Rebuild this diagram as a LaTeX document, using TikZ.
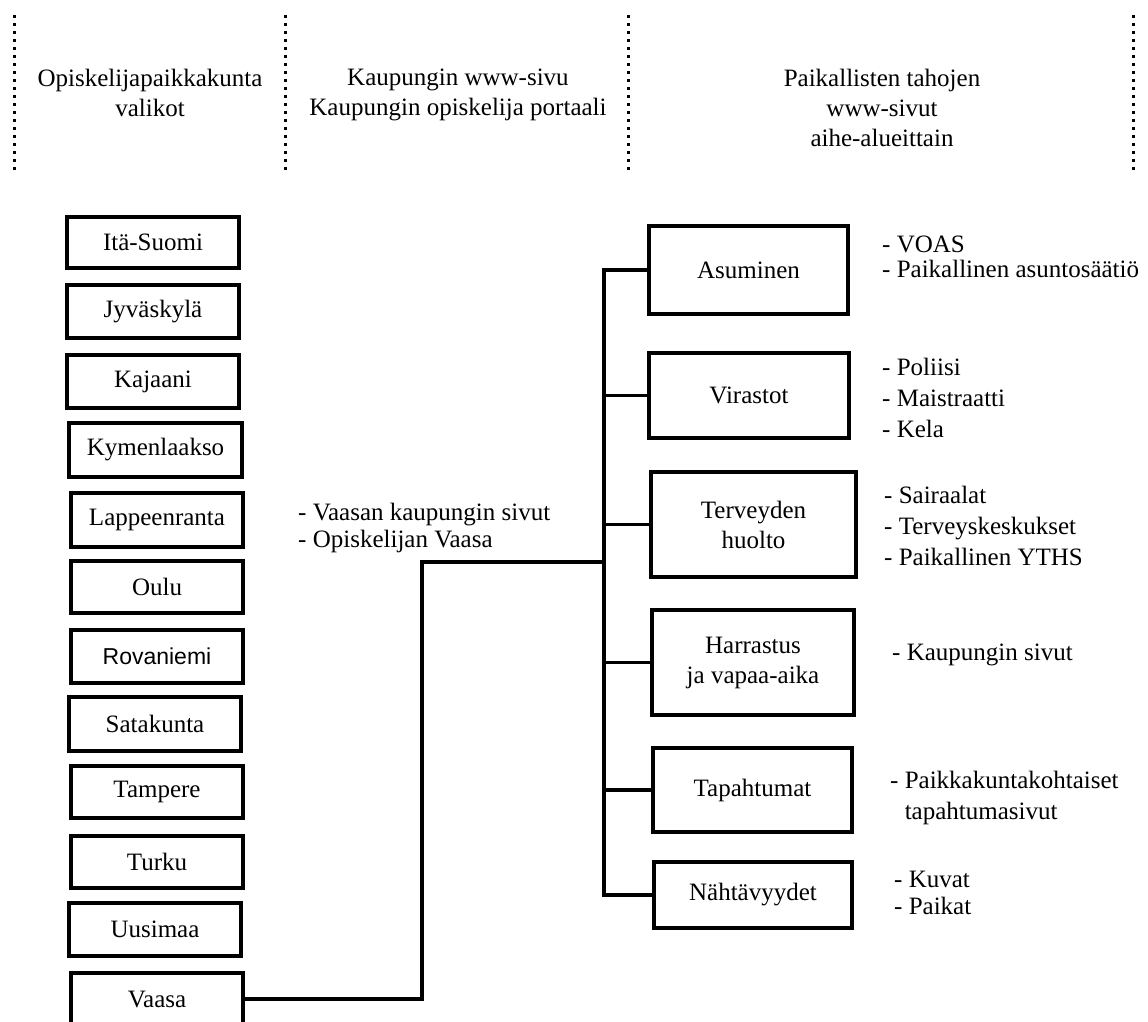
\documentclass[tikz,border=0pt]{standalone}
\usepackage{fontspec}
\setmainfont{Liberation Serif}
\newfontfamily\sansfont{Liberation Sans}
\begin{document}
\begin{tikzpicture}[x=1pt,y=-1pt,
  every node/.style={inner sep=0pt, font=\fontsize{25}{30}\selectfont},
  hdr/.style={align=center, anchor=north},
  cellbox/.style={draw, line width=3.2pt, align=center},
  itemlist/.style={align=left, anchor=north west},
  wire/.style={draw, line width=3.2pt},
  sepline/.style={line width=3pt, dash pattern=on 3pt off 5pt}]

% page
\fill[white] (0,0) rectangle (1148,1021);
\useasboundingbox (0,0) rectangle (1148,1021);

% column separators
\draw[sepline] (14,15) -- (14,172);
\draw[sepline] (285,15) -- (285,172);
\draw[sepline] (628,15) -- (628,172);
\draw[sepline] (1133,15) -- (1133,172);

% column headings
\node[hdr] (h1) at (150,69) {Opiskelijapaikkakunta\\valikot};
\node[hdr] (h2) at (458,69) {Kaupungin www-sivu\\Kaupungin opiskelija portaali};
\node[hdr] (h3) at (882,69) {Paikallisten tahojen\\www-sivut\\aihe-alueittain};

% study towns
\node[cellbox, minimum width=172, minimum height=51] (itasuomi) at (153,242.5) {Itä-Suomi};
\node[cellbox, minimum width=172, minimum height=53] (jyvaskyla) at (153,311.5) {Jyväskylä};
\node[cellbox, minimum width=172, minimum height=53] (kajaani) at (153,381.5) {Kajaani};
\node[cellbox, minimum width=173, minimum height=54] (kymenlaakso) at (155.5,450) {Kymenlaakso};
\node[cellbox, minimum width=172, minimum height=54] (lappeenranta) at (157,520) {Lappeenranta};
\node[cellbox, minimum width=172, minimum height=52] (oulu) at (157,587) {Oulu};
\node[cellbox, minimum width=172, minimum height=53, font=\sansfont\fontsize{23}{28}\selectfont] (rovaniemi) at (157,656.5) {Rovaniemi};
\node[cellbox, minimum width=172, minimum height=54] (satakunta) at (155,724) {Satakunta};
\node[cellbox, minimum width=172, minimum height=52] (tampere) at (157,792) {Tampere};
\node[cellbox, minimum width=172, minimum height=52] (turku) at (157,862) {Turku};
\node[cellbox, minimum width=172, minimum height=53] (uusimaa) at (155,929.5) {Uusimaa};
\node[cellbox, minimum width=172, minimum height=52] (vaasa) at (157,999) {Vaasa};

% city pages
\node[itemlist, font=\fontsize{25}{27}\selectfont] (citypages) at (298,503)
  {- Vaasan kaupungin sivut\\- Opiskelijan Vaasa};

% topics
\node[cellbox, minimum width=199, minimum height=88] (asuminen) at (748.5,270) {Asuminen};
\node[cellbox, minimum width=200, minimum height=85] (virastot) at (749,395.5) {Virastot};
\node[cellbox, minimum width=205, minimum height=105] (terveys) at (753.5,524.5) {Terveyden\\huolto};
\node[cellbox, minimum width=202, minimum height=105] (harrastus) at (753,662.5) {Harrastus\\ja vapaa-aika};
\node[cellbox, minimum width=199, minimum height=84] (tapahtumat) at (752.5,790) {Tapahtumat};
\node[cellbox, minimum width=198, minimum height=66] (nahtavyydet) at (753,895) {Nähtävyydet};

% local pages per topic
\node[itemlist, font=\fontsize{25}{25}\selectfont] (asumlist) at (882,236)
  {- VOAS\\- Paikallinen asuntosäätiö};
\node[itemlist, font=\fontsize{25}{31}\selectfont] (virlist) at (882,358)
  {- Poliisi\\- Maistraatti\\- Kela};
\node[itemlist, font=\fontsize{25}{31}\selectfont] (tervlist) at (884,486)
  {- Sairaalat\\- Terveyskeskukset\\- Paikallinen YTHS};
\node[itemlist] (harrlist) at (892,644) {- Kaupungin sivut};
\node[itemlist, font=\fontsize{25}{31}\selectfont] (tapalist) at (890,771)
  {- Paikkakuntakohtaiset\\\hphantom{- }tapahtumasivut};
\node[itemlist, font=\fontsize{25}{27}\selectfont] (nahtlist) at (894,871)
  {- Kuvat\\- Paikat};

% connectors
\coordinate (trunk) at (604,0);
\coordinate (bend) at (422,562);
\coordinate (joint) at (604,562);
\draw[wire] (asuminen.west) -- (asuminen.west -| trunk) -- (nahtavyydet.west -| trunk) -- (nahtavyydet.west);
\draw[wire] (virastot.west -| trunk) -- (virastot.west);
\draw[wire] (terveys.west -| trunk) -- (terveys.west);
\draw[wire] (harrastus.west -| trunk) -- (harrastus.west);
\draw[wire] (tapahtumat.west -| trunk) -- (tapahtumat.west);
\draw[wire] (vaasa.east) -| (bend) -- (joint);
\end{tikzpicture}
\end{document}
